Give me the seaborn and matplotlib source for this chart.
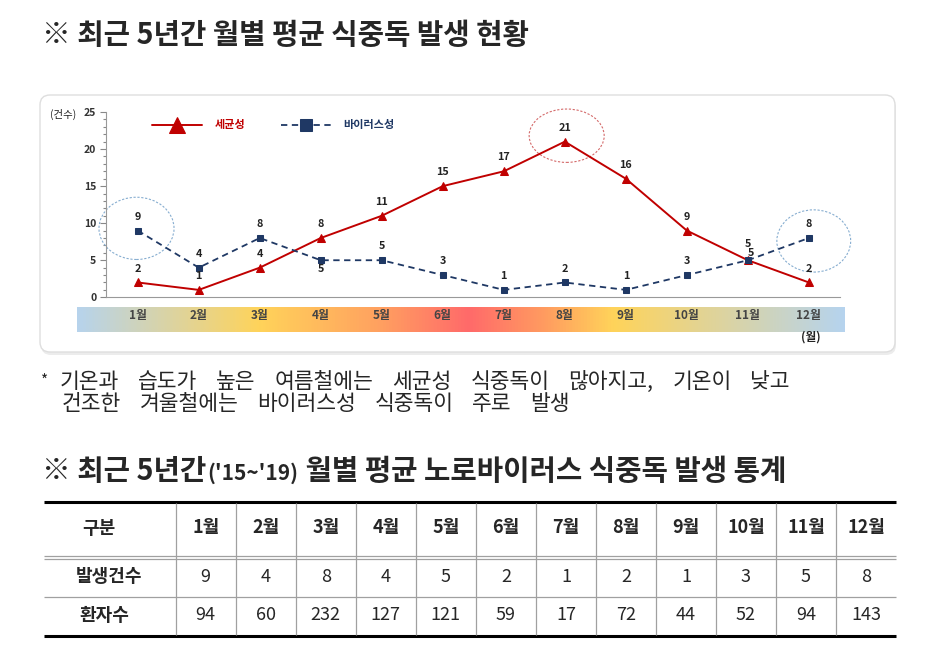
import numpy as np
import pandas as pd
import matplotlib.pyplot as plt
import seaborn as sns
from matplotlib.patches import Ellipse, FancyBboxPatch
from matplotlib.colors import LinearSegmentedColormap
from matplotlib.ticker import MultipleLocator

# chart data (최근 5년간 월별 평균 식중독 발생)
months = [1, 2, 3, 4, 5, 6, 7, 8, 9, 10, 11, 12]
month_labels = ["1월", "2월", "3월", "4월", "5월", "6월", "7월", "8월", "9월", "10월", "11월", "12월"]
bacteria = [2, 1, 4, 8, 11, 15, 17, 21, 16, 9, 5, 2]
virus = [9, 4, 8, 5, 5, 3, 1, 2, 1, 3, 5, 8]

# table data (노로바이러스)
noro_cases = [9, 4, 8, 4, 5, 2, 1, 2, 1, 3, 5, 8]
noro_patients = [94, 60, 232, 127, 121, 59, 17, 72, 44, 52, 94, 143]

note_line1 = "기온과 습도가 높은 여름철에는 세균성 식중독이 많아지고, 기온이 낮고"
note_line2 = "건조한 겨울철에는 바이러스성 식중독이 주로 발생"

RED = "#c00000"
NAVY = "#1f3864"

sns.set_theme(style="white")
plt.rcParams["font.family"] = ["Noto Sans CJK KR", "DejaVu Sans"]

fig = plt.figure(figsize=(9.31, 6.57), dpi=100)
fig.patch.set_facecolor("white")
renderer = fig.canvas.get_renderer()

# background axes in pixel coordinates
bg = fig.add_axes([0, 0, 1, 1])
bg.set_zorder(0)

# gradient band under the month labels
stops = [(0.0, "#b7d3ec"), (0.237, "#ffd35a"), (0.39, "#ffa260"), (0.51, "#ff6a6a"),
         (0.61, "#ff9c60"), (0.70, "#ffd45a"), (1.0, "#b6d3ee")]
cmap = LinearSegmentedColormap.from_list("season", stops)
bg.imshow(np.linspace(0, 1, 512)[None, :], extent=(77, 845, 332, 307), aspect="auto",
          cmap=cmap, zorder=2)

bg.set_xlim(0, 931)
bg.set_ylim(657, 0)
bg.axis("off")

# panel with soft shadow
bg.add_patch(FancyBboxPatch((41, 98), 855, 257, boxstyle="round,pad=0,rounding_size=10",
                            fc="#ececec", ec="none", zorder=0))
bg.add_patch(FancyBboxPatch((40, 95), 855, 257, boxstyle="round,pad=0,rounding_size=10",
                            fc="white", ec="#dedede", lw=1, zorder=1))

# titles
bg.text(42, 35, "※ 최근 5년간 월별 평균 식중독 발생 현황", fontsize=20.7, weight="bold",
        va="center", ha="left")

x = 42
for txt, size in [("※ 최근 5년간", 20.7), ("('15~'19)", 15), (" 월별 평균 노로바이러스 식중독 발생 통계", 20.7)]:
    t = bg.text(x, 480, txt, fontsize=size, weight="bold", va="baseline", ha="left")
    x = t.get_window_extent(renderer).x1 + 1


def justified(line, x0, x1, y, size):
    # spread the words of one line evenly between x0 and x1
    words = line.split(" ")
    arts = [bg.text(0, y, w, fontsize=size, va="center", ha="left") for w in words]
    widths = [a.get_window_extent(renderer).width for a in arts]
    gap = (x1 - x0 - sum(widths)) / (len(words) - 1)
    pos = x0
    for a, w in zip(arts, widths):
        a.set_x(pos)
        pos += w + gap


bg.text(41, 381, "*", fontsize=11, va="center", ha="left")
justified(note_line1, 60, 790, 382.5, 15.5)
justified(note_line2, 62, 570, 404.5, 15.5)

# line chart
ax = fig.add_axes([106 / 931, 1 - 297.3 / 657, 734 / 931, 185.3 / 657])
ax.set_zorder(2)
ax.set_facecolor("none")

df = pd.DataFrame({"월": months, "세균성": bacteria, "바이러스성": virus})
sns.lineplot(data=df, x="월", y="세균성", ax=ax, color=RED, lw=1.4, marker="^",
             markersize=6, markeredgecolor=RED, label="세균성")
sns.lineplot(data=df, x="월", y="바이러스성", ax=ax, color=NAVY, lw=1.3,
             linestyle=(0, (3.5, 2.5)), marker="s", markersize=4.5,
             markeredgecolor=NAVY, label="바이러스성")

ax.set_xlim(0.48, 12.51)
ax.set_ylim(0, 25)
ax.set_xlabel("")
ax.set_ylabel("")
ax.set_xticks(months)
ax.set_xticklabels(month_labels, fontsize=8.5, weight="bold", color="#444444")
ax.tick_params(axis="x", length=0, pad=8.5)
ax.set_yticks(range(0, 26, 5))
ax.yaxis.set_minor_locator(MultipleLocator(1))
ax.tick_params(axis="y", which="both", left=True, direction="out", color="#888888",
               width=0.8, labelsize=7.5, labelcolor="#333333", pad=3)
ax.tick_params(axis="y", which="major", length=4)
ax.tick_params(axis="y", which="minor", length=2.5)
for lab in ax.get_yticklabels():
    lab.set_fontweight("bold")
for side in ["top", "right"]:
    ax.spines[side].set_visible(False)
for side in ["left", "bottom"]:
    ax.spines[side].set_color("#999999")
    ax.spines[side].set_linewidth(0.8)

# value labels
virus_offsets = {4: (0, -6), 11: (0, 11.5)}
bact_offsets = {11: (2, 5.5)}
for m, v in zip(months, bacteria):
    ax.annotate(str(v), (m, v), xytext=bact_offsets.get(m, (0, 10)), textcoords="offset points",
                ha="center", va="center", fontsize=7.8, weight="bold", color="#222222")
for m, v in zip(months, virus):
    ax.annotate(str(v), (m, v), xytext=virus_offsets.get(m, (0, 10)), textcoords="offset points",
                ha="center", va="center", fontsize=7.8, weight="bold", color="#222222")

# highlight circles
ax.add_patch(Ellipse((0.98, virus[0] + 0.3), 1.23, 8.4, fill=False, ec="#86add0",
                     lw=0.8, ls=(0, (2, 1.5)), clip_on=False))
ax.add_patch(Ellipse((8.03, bacteria[7] + 0.8), 1.23, 7.2, fill=False, ec="#d46a6a",
                     lw=0.8, ls=(0, (2, 1.5)), clip_on=False))
ax.add_patch(Ellipse((12.08, virus[11] - 0.4), 1.21, 8.4, fill=False, ec="#86add0",
                     lw=0.8, ls=(0, (2, 1.5)), clip_on=False))

# legend
leg = ax.legend(loc="center left", bbox_to_anchor=(0.0627, 0.93), ncol=2, frameon=False,
                prop={"weight": "bold", "size": 8}, handlelength=4.5, handletextpad=1.1,
                columnspacing=3.2, borderpad=0, borderaxespad=0)
for h, size in zip(leg.legend_handles, [11, 9]):
    h.set_markersize(size)
for t, c in zip(leg.get_texts(), [RED, NAVY]):
    t.set_color(c)

bg.text(63, 114, "(건수)", fontsize=7.5, ha="center", va="center", color="#222222")
bg.text(811, 337, "(월)", fontsize=8.5, weight="bold", ha="center", va="center", color="#222222")

# table
left, first_w, col_w, right = 44, 131.7, 60.03, 896
edges = [left + first_w + col_w * k for k in range(12)]
bg.hlines(501.7, left, right, color="black", lw=2.2)
bg.hlines([556, 558.5, 596.7], left, right, color="#a0a0a0", lw=0.9)
bg.hlines(635.7, left, right, color="black", lw=2.2)
bg.vlines(edges, 502.5, 635, color="#a0a0a0", lw=0.9)

row_y = [528, 576.5, 615.5]
bg.text(98.6, row_y[0], "구분", fontsize=13, weight="bold", ha="center", va="center")
bg.text(109, row_y[1], "발생건수", fontsize=13, weight="bold", ha="center", va="center")
bg.text(104, row_y[2], "환자수", fontsize=13, weight="bold", ha="center", va="center")
for k, (lab, c, p) in enumerate(zip(month_labels, noro_cases, noro_patients)):
    cx = edges[k] + col_w / 2
    bg.text(cx, row_y[0], lab, fontsize=13, weight="bold", ha="center", va="center")
    bg.text(cx, row_y[1], str(c), fontsize=13, ha="center", va="center")
    bg.text(cx, row_y[2], str(p), fontsize=13, ha="center", va="center")

fig.savefig("out.png", dpi=100)
